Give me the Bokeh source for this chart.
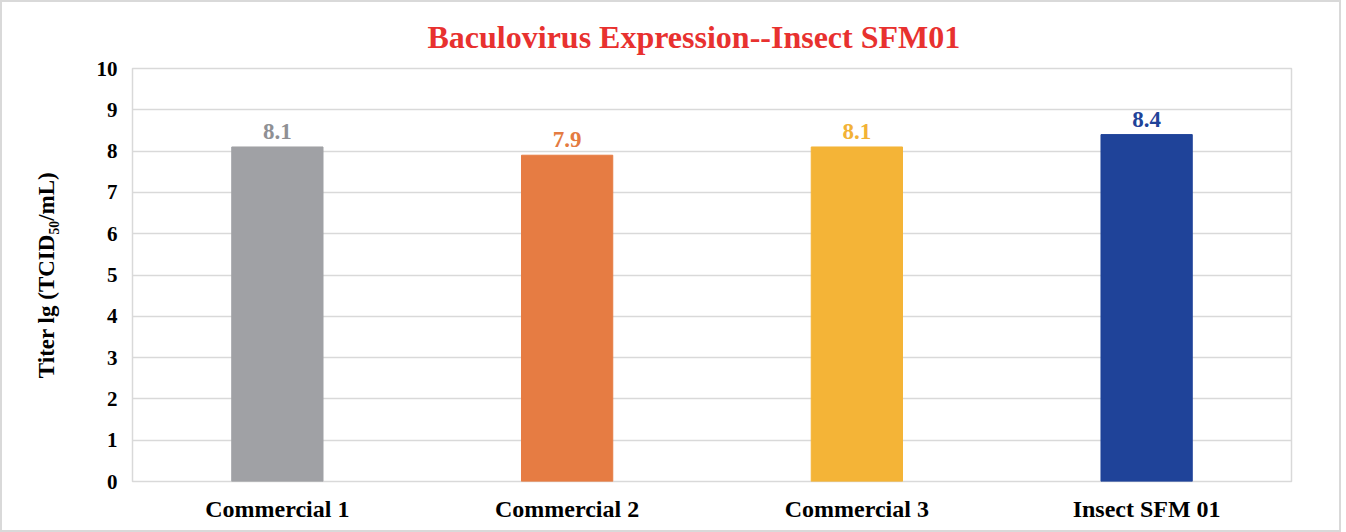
from bokeh.plotting import figure
from bokeh.models import ColumnDataSource, FixedTicker
from bokeh.core.properties import value
from bokeh.embed import file_html
from bokeh.resources import INLINE

categories = ["Commercial 1", "Commercial 2", "Commercial 3", "Insect SFM 01"]
titers = [8.1, 7.9, 8.1, 8.4]
bar_colors = ["#A0A1A5", "#E67C43", "#F4B437", "#1F4399"]
label_colors = ["#8F9094", "#E47B41", "#F2B236", "#1F4399"]
y_ticks = [0, 1, 2, 3, 4, 5, 6, 7, 8, 9, 10]

FONT = "Liberation Serif"
positions = [i + 0.5 for i in range(len(categories))]

src = ColumnDataSource(dict(
    x=positions, top=titers, color=bar_colors, lcolor=label_colors,
    txt=[f"{v:.1f}" for v in titers],
))

p = figure(width=1341, height=532, output_backend="svg", toolbar_location=None,
           x_range=(0, len(categories)), y_range=(0, 10),
           min_border_left=130, min_border_top=65, min_border_right=52, min_border_bottom=53)
p.styles = {"border": "2px solid #d9d9d9", "box-sizing": "border-box"}

p.title.text = "Baculovirus Expression--Insect SFM01"
p.title.align = "left"
p.title.offset = 295
p.title.text_color = "#E8312F"
p.title.text_font = FONT
p.title.text_font_style = "bold"
p.title.text_font_size = "32px"
p.title.standoff = 28

p.vbar(x="x", top="top", width=0.315, color="color", source=src)
p.text(x="x", y="top", text="txt", text_color="lcolor", source=src,
       text_align="center", text_baseline="bottom", y_offset=-8,
       text_font=value(FONT), text_font_style="bold", text_font_size="23px")

p.outline_line_color = "#d9d9d9"
p.outline_line_width = 1.5
p.xgrid.grid_line_color = None
p.ygrid.grid_line_color = "#d9d9d9"
p.ygrid.grid_line_width = 1.5
p.ygrid.ticker = FixedTicker(ticks=y_ticks)

p.yaxis.ticker = FixedTicker(ticks=y_ticks)
p.xaxis.ticker = FixedTicker(ticks=positions)
p.xaxis.major_label_overrides = {pos: c for pos, c in zip(positions, categories)}

for ax in (p.xaxis[0], p.yaxis[0]):
    ax.axis_line_color = None
    ax.major_tick_line_color = None
    ax.minor_tick_line_color = None
    ax.major_label_text_font = FONT
    ax.major_label_text_font_style = "bold"
    ax.major_label_text_color = "#000000"

p.yaxis.major_label_text_font_size = "21px"
p.yaxis.major_label_standoff = 9
p.xaxis.major_label_text_font_size = "24px"
p.xaxis.major_label_standoff = 8

p.yaxis.axis_label = "Titer lg (TCID\u2085\u2080/mL)"
p.yaxis.axis_label_text_font = FONT
p.yaxis.axis_label_text_font_style = "bold"
p.yaxis.axis_label_text_font_size = "23px"
p.yaxis.axis_label_text_color = "#000000"
p.yaxis.axis_label_standoff = 35

p.background_fill_color = "white"
p.border_fill_color = "white"

open("out.html", "w").write(file_html(p, INLINE))
